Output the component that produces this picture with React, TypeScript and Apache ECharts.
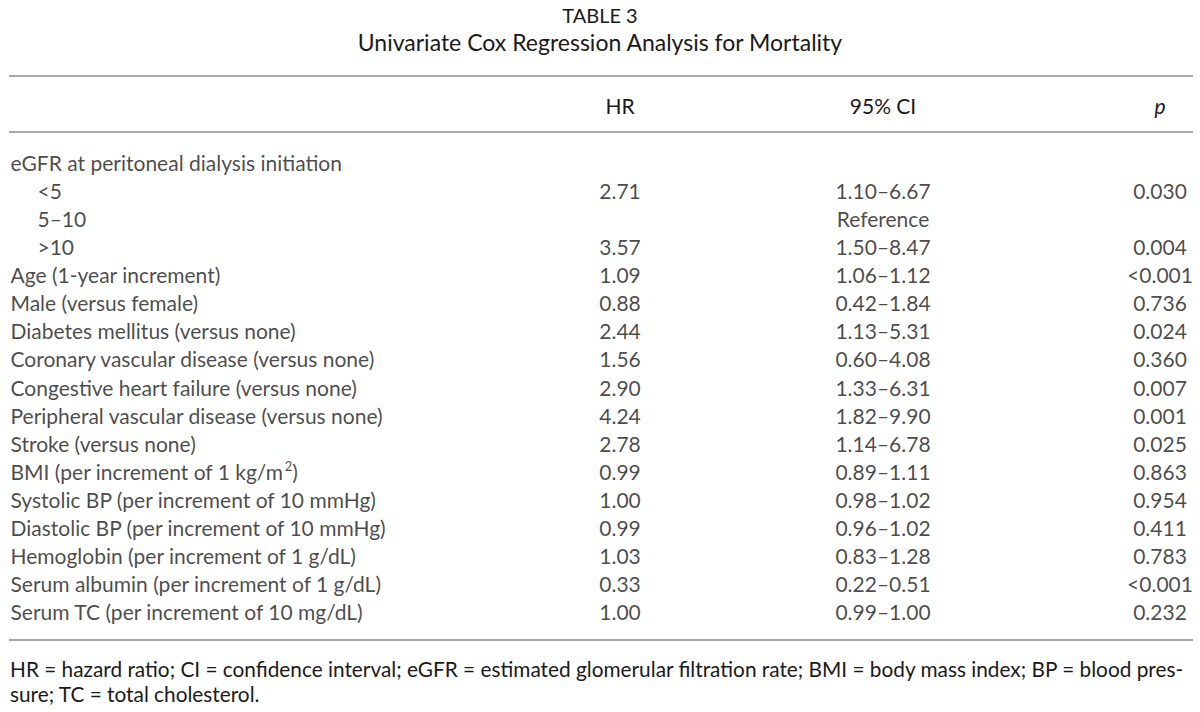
import React, { useEffect, useRef } from "react";
import * as echarts from "echarts";

const tableNumber = "TABLE 3";
const tableTitle = "Univariate Cox Regression Analysis for Mortality";
const headers = ["HR", "95% CI", "p"];

const rowLabels = [
  "eGFR at peritoneal dialysis initiation",
  "<5",
  "5–10",
  ">10",
  "Age (1-year increment)",
  "Male (versus female)",
  "Diabetes mellitus (versus none)",
  "Coronary vascular disease (versus none)",
  "Congestive heart failure (versus none)",
  "Peripheral vascular disease (versus none)",
  "Stroke (versus none)",
  "BMI (per increment of 1 kg/m{sup|2})",
  "Systolic BP (per increment of 10 mmHg)",
  "Diastolic BP (per increment of 10 mmHg)",
  "Hemoglobin (per increment of 1 g/dL)",
  "Serum albumin (per increment of 1 g/dL)",
  "Serum TC (per increment of 10 mg/dL)",
];
const subgroupRows = ["<5", "5–10", ">10"];
const hrValues = ["", "2.71", "", "3.57", "1.09", "0.88", "2.44", "1.56", "2.90", "4.24", "2.78", "0.99", "1.00", "0.99", "1.03", "0.33", "1.00"];
const ciValues = ["", "1.10–6.67", "Reference", "1.50–8.47", "1.06–1.12", "0.42–1.84", "1.13–5.31", "0.60–4.08", "1.33–6.31", "1.82–9.90", "1.14–6.78", "0.89–1.11", "0.98–1.02", "0.96–1.02", "0.83–1.28", "0.22–0.51", "0.99–1.00"];
const pValues = ["", "0.030", "", "0.004", "<0.001", "0.736", "0.024", "0.360", "0.007", "0.001", "0.025", "0.863", "0.954", "0.411", "0.783", "<0.001", "0.232"];
const footnoteLines = [
  "HR = hazard ratio; CI = confidence interval; eGFR = estimated glomerular filtration rate; BMI = body mass index; BP = blood pres-",
  "sure; TC = total cholesterol.",
];

const FONT = "Lato";
const TEXT = "#1a1a1a";
const RULE = "#8c8c8c";
const FS = 21;
const FOOT_FS = 20.8;

export default function App() {
  const ref = useRef<HTMLDivElement>(null);
  useEffect(() => {
    if (!ref.current) return;
    const chart = echarts.init(ref.current, null, { renderer: "svg" });
    const colX = { label: 10, indent: 37, hr: 620, ci: 883, p: 1160 };
    const rowIdx = rowLabels.map((_, i) => String(i));

    const baseLabel = {
      show: true,
      color: TEXT,
      fontFamily: FONT,
      fontSize: FS,
    };
    const hidden = { itemStyle: { color: "transparent" }, symbolSize: 1, silent: true };

    const option: any = {
      animation: false,
      backgroundColor: "#ffffff",
      title: {
        text: tableNumber,
        subtext: tableTitle,
        left: "center",
        top: 0,
        itemGap: 5,
        textStyle: { fontFamily: FONT, fontSize: 20, fontWeight: "normal", color: TEXT },
        subtextStyle: { fontFamily: FONT, fontSize: 23, color: TEXT },
      },
      grid: { left: 0, right: 0, top: 148, height: 478 },
      xAxis: { type: "value", min: 0, max: 1200, show: false },
      yAxis: { type: "category", data: rowIdx, inverse: true, show: false },
      series: [
        {
          type: "scatter",
          ...hidden,
          data: rowLabels.map((l, i) => ({
            value: [subgroupRows.includes(l) ? colX.indent : colX.label, String(i)],
            name: l,
          })),
          label: {
            ...baseLabel,
            position: "right",
            distance: 0,
            formatter: (p: any) => p.name,
            rich: {
              sup: { fontFamily: FONT, fontSize: 13, color: TEXT, verticalAlign: "top", lineHeight: 24, padding: [0, 0, 0, 1] },
            },
          },
        },
        {
          type: "scatter",
          ...hidden,
          data: hrValues.map((v, i) => ({ value: [colX.hr, String(i)], name: v })),
          label: { ...baseLabel, position: "inside", formatter: (p: any) => p.name },
        },
        {
          type: "scatter",
          ...hidden,
          data: ciValues.map((v, i) => ({ value: [colX.ci, String(i)], name: v })),
          label: { ...baseLabel, position: "inside", formatter: (p: any) => p.name },
        },
        {
          type: "scatter",
          ...hidden,
          data: pValues.map((v, i) => ({ value: [colX.p, String(i)], name: v })),
          label: { ...baseLabel, position: "inside", formatter: (p: any) => p.name },
        },
      ],
      graphic: [
        { type: "line", shape: { x1: 9, y1: 76, x2: 1193, y2: 76 }, style: { stroke: RULE, lineWidth: 1.5 } },
        { type: "line", shape: { x1: 9, y1: 132, x2: 1193, y2: 132 }, style: { stroke: RULE, lineWidth: 1.5 } },
        { type: "line", shape: { x1: 9, y1: 640, x2: 1193, y2: 640 }, style: { stroke: RULE, lineWidth: 1.5 } },
        {
          type: "text", x: colX.hr, y: 105,
          style: { text: headers[0], fill: TEXT, font: `${FS}px ${FONT}`, align: "center", verticalAlign: "middle" },
        },
        {
          type: "text", x: colX.ci, y: 105,
          style: { text: headers[1], fill: TEXT, font: `${FS}px ${FONT}`, align: "center", verticalAlign: "middle" },
        },
        {
          type: "text", x: colX.p, y: 105,
          style: { text: headers[2], fill: TEXT, font: `italic ${FS}px ${FONT}`, align: "center", verticalAlign: "middle" },
        },
        ...footnoteLines.map((t, i) => ({
          type: "text", x: 10, y: 668 + i * 25,
          style: { text: t, fill: TEXT, font: `${FOOT_FS}px ${FONT}`, align: "left", verticalAlign: "middle" },
        })),
      ],
    };
    chart.setOption(option);
    return () => chart.dispose();
  }, []);
  return (
    <div style={{ position: "fixed", left: 0, top: 0, width: 1200, height: 712, background: "#fff" }}>
      <div ref={ref} style={{ width: 1200, height: 712 }} />
    </div>
  );
}
